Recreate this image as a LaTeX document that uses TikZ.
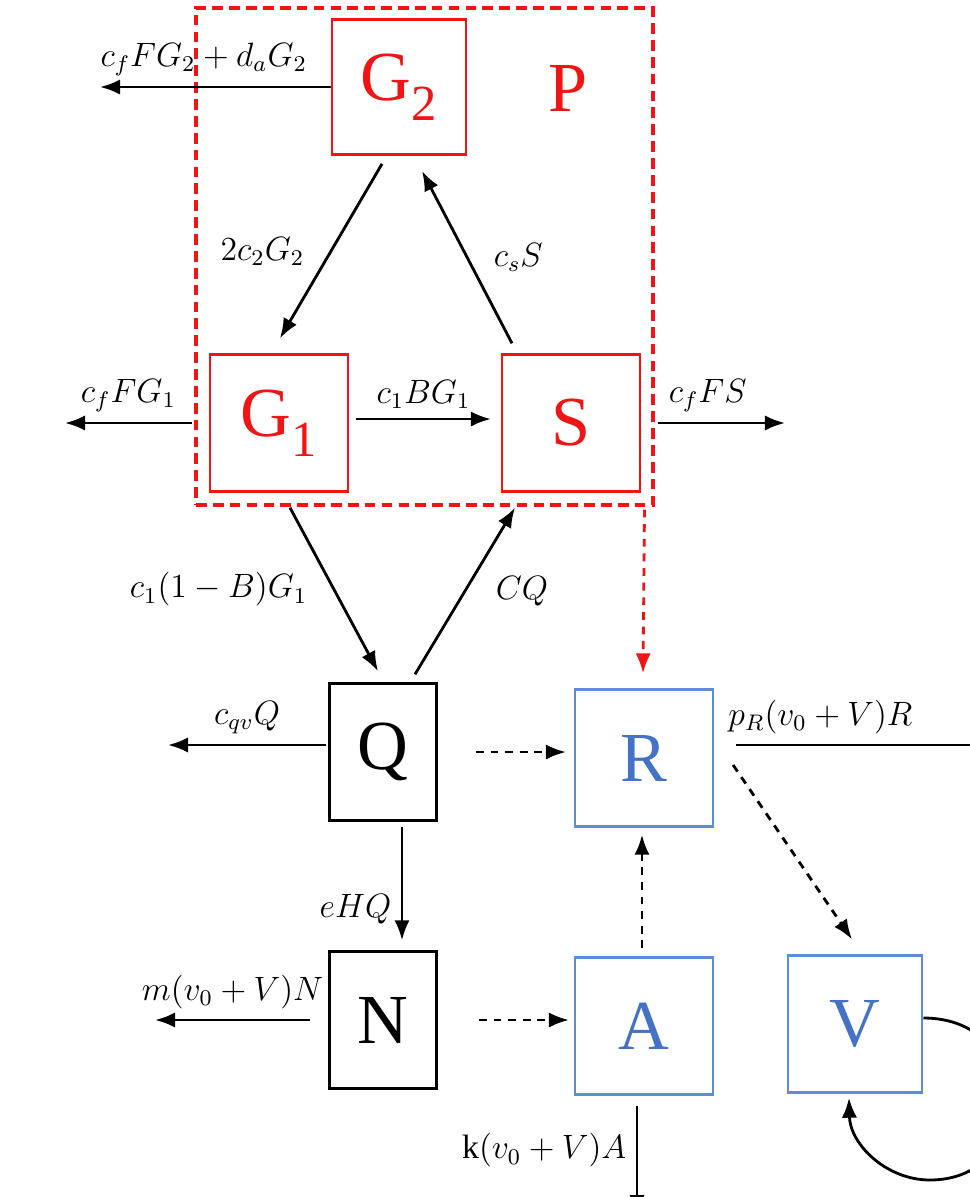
\documentclass[tikz,border=0pt]{standalone}
\usepackage{fontspec}
\setmainfont{Liberation Serif}
\usetikzlibrary{arrows.meta,calc}
\definecolor{boxred}{RGB}{240,20,20}
\definecolor{boxblue}{RGB}{95,140,215}
\definecolor{textblue}{RGB}{68,114,196}
\newcommand{\lowsub}[1]{\raisebox{-0.28em}{\fontsize{18}{20}\selectfont #1}}
\begin{document}
\begin{tikzpicture}[x=0.0125cm,y=-0.0125cm,
    box/.style={draw,line width=0.9pt,inner sep=0pt,minimum width=1.72cm,minimum height=1.71cm,font=\fontsize{25}{28}\selectfont},
    narrow/.style={box,minimum width=1.34cm},
    redbox/.style={box,draw=boxred,text=boxred},
    bluebox/.style={box,draw=boxblue,text=textblue},
    flow/.style={line width=1pt,-{Latex[length=2.5mm,width=1.9mm]}},
    dflow/.style={flow,dash pattern=on 2.8pt off 2.4pt},
    rate/.style={font=\large}]
        \path[use as bounding box] (0,0) rectangle (970,1197);
        \clip (0,0) rectangle (970,1197);
        \node[draw=boxred,dash pattern=on 3.8pt off 2.2pt,line width=1.1pt,minimum width=5.71cm,minimum height=6.21cm] (P) at (424.5,256.5) {};
        \node[redbox,minimum width=1.68cm,minimum height=1.69cm] (G2) at (399,87) {G\lowsub{2}};
        \node[font=\fontsize{25}{28}\selectfont,text=boxred] (Plabel) at (568,88) {P};
        \node[redbox] (G1) at (279,423) {G\lowsub{1}};
        \node[redbox] (S) at (571,423) {S};
        \node[narrow] (Q) at (383,752) {Q};
        \node[bluebox] (R) at (644,758) {R};
        \node[narrow] (N) at (383,1020) {N};
        \node[bluebox] (A) at (644,1026) {A};
        \node[bluebox,minimum width=1.68cm] (V) at (855,1024) {V};
        \coordinate (G2out) at (100,87);
        \coordinate (G1out) at (65,423);
        \coordinate (Sout) at (785,423);
        \coordinate (Qout) at (168,745);
        \coordinate (Rout) at (1005,745);
        \coordinate (Nout) at (155,1020);
        \coordinate (Aout) at (637,1215);
        \draw[flow] (G2.west) -- node[rate,above,pos=0.55] {$c_fFG_2+d_aG_2$} (G2out);
        \draw[flow] ($(G2.south)+(-17,8)$) -- node[rate,left,xshift=-2mm] {$2c_2G_2$} ($(G1.north)+(1,-15)$);
        \draw[flow] ($(S.north)+(-59,-10)$) -- node[rate,right,xshift=2mm] {$c_sS$} ($(G2.south)+(23,15)$);
        \draw[flow] ($(G1.east)+(7,-4)$) -- node[rate,above] {$c_1BG_1$} ($(S.west)+(-10,-4)$);
        \draw[flow] ($(G1.west)+(-17,0)$) -- node[rate,above] {$c_fFG_1$} (G1out);
        \draw[flow] ($(S.east)+(17,0)$) -- node[rate,above right,pos=0] {$c_fFS$} (Sout);
        \draw[flow] ($(G1.south)+(11,15)$) -- node[rate,left,xshift=-2mm] {$c_1(1-B)G_1$} ($(Q.north)+(-5,-11)$);
        \draw[flow] ($(Q.north)+(32,-8)$) -- node[rate,right,xshift=2.5mm] {$CQ$} ($(S.south)+(-56,15)$);
        \draw[dflow,boxred] ($(P.south east)+(-10,3)$) -- ($(R.north)+(-1,-15)$);
        \draw[flow] ($(Q.west)+(-2,-7)$) -- node[rate,above] {$c_{qv}Q$} (Qout);
        \draw[dflow] ($(Q.east)+(38,0)$) -- ($(R.west)+(-8,-6)$);
        \draw[flow] ($(R.east)+(22,-13)$) -- node[rate,above right,pos=0,xshift=-2.3mm] {$p_R(v_0+V)R$} (Rout);
        \draw[dflow] ($(R.east)+(19,7)$) -- ($(V.north)+(-3,-15)$);
        \draw[flow] ($(Q.south)+(19,5)$) -- node[rate,left,pos=0.73] {$eHQ$} ($(N.north)+(19,-10)$);
        \draw[flow] ($(N.west)+(-18,0)$) -- node[rate,above] {$m(v_0+V)N$} (Nout);
        \draw[dflow] ($(N.east)+(41,0)$) -- ($(A.west)+(-5,-6)$);
        \draw[dflow] ($(A.north)+(-2,-8)$) -- ($(R.south)+(-2,7)$);
        \draw[flow] ($(A.south)+(-7,10)$) -- node[rate,left,pos=0.41] {$\mathrm{k}(v_0+V)A$} (Aout);
        \draw[flow] ($(V.east)+(0,-6)$) .. controls (1037,1018) and (1037,1180) .. (930,1180) .. controls (886,1180) and (850,1144) .. ($(V.south)+(-6,4)$);
    \end{tikzpicture}
\end{document}
